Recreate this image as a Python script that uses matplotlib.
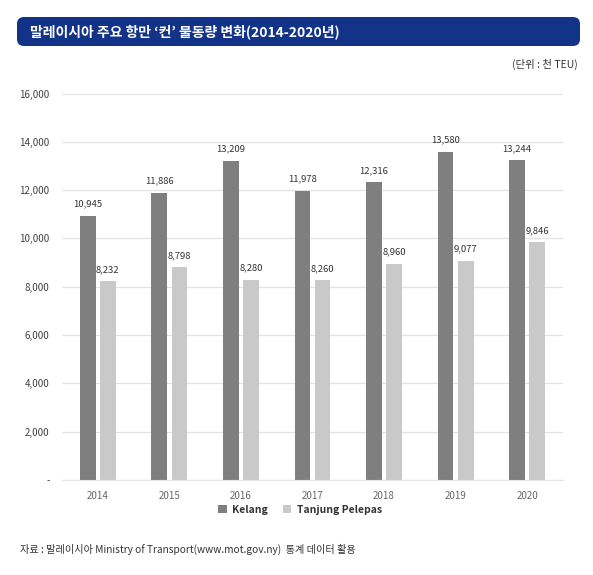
import matplotlib
matplotlib.use("Agg")
import matplotlib.pyplot as plt
from matplotlib.patches import FancyBboxPatch
import numpy as np

plt.rcParams['font.family'] = ['Noto Sans CJK KR', 'DejaVu Sans']

years = ["2014", "2015", "2016", "2017", "2018", "2019", "2020"]
kelang = [10945, 11886, 13209, 11978, 12316, 13580, 13244]
tanjung = [8232, 8798, 8280, 8260, 8960, 9077, 9846]
series_names = ["Kelang", "Tanjung Pelepas"]
yticks = [0, 2000, 4000, 6000, 8000, 10000, 12000, 14000, 16000]

fig = plt.figure(figsize=(5.93, 5.75), dpi=100)

# title bar
bar = FancyBboxPatch((17 / 593, 1 - 46 / 575), (580 - 17) / 593, 29 / 575,
                     boxstyle="round,pad=0,rounding_size=0.012",
                     transform=fig.transFigure, facecolor="#123388",
                     edgecolor="none")
fig.patches.append(bar)
fig.text(30 / 593, 1 - 32 / 575, "말레이시아 주요 항만 ‘컨’ 물동량 변화(2014-2020년)",
         color="white", fontsize=10, fontweight="bold", va="center")
fig.text(578 / 593, 1 - 64 / 575, "(단위 : 천 TEU)", fontsize=7.5,
         color="#333333", ha="right", va="center")

ax = fig.add_axes([62 / 593, 1 - 480 / 575, (563 - 62) / 593, (480 - 93.5) / 575])
x = np.arange(len(years))
w = 0.22
off = 0.14
b1 = ax.bar(x - off, kelang, w, color="#7f7f7f", label=series_names[0])
b2 = ax.bar(x + off, tanjung, w, color="#c9c9c9", label=series_names[1])

for rects, vals in ((b1, kelang), (b2, tanjung)):
    for r, v in zip(rects, vals):
        ax.text(r.get_x() + r.get_width() / 2, v + 300, f"{v:,}",
                ha="center", va="bottom", fontsize=6.8, color="#333333")

ax.set_xlim(-0.5, len(years) - 0.5)
ax.set_ylim(0, 16000)
ax.set_yticks(yticks)
ax.set_yticklabels(["-" if t == 0 else f"{t:,}" for t in yticks],
                   fontsize=7, color="#404040")
ax.set_xticks(x)
ax.set_xticklabels(years, fontsize=7, color="#666666")
ax.tick_params(length=0, pad=8)
ax.tick_params(axis="y", pad=9)
ax.grid(axis="y", color="#e3e3e3", linewidth=0.9)
ax.set_axisbelow(True)
for s in ["top", "right", "left"]:
    ax.spines[s].set_visible(False)
ax.spines["bottom"].set_color("#e3e3e3")

leg = fig.legend(handles=[b1, b2], loc="center", bbox_to_anchor=(300 / 593, 1 - 510 / 575),
                 ncol=2, frameon=False, fontsize=7.5, handlelength=0.8,
                 handleheight=0.8, columnspacing=1.5, handletextpad=0.5)
for t in leg.get_texts():
    t.set_fontweight("bold")
    t.set_color("#333333")

fig.text(20 / 593, 1 - 549 / 575,
         "자료 : 말레이시아 Ministry of Transport(www.mot.gov.ny)  통계 데이터 활용",
         fontsize=7.3, color="#333333", va="center")

fig.savefig("out.png", dpi=100)
